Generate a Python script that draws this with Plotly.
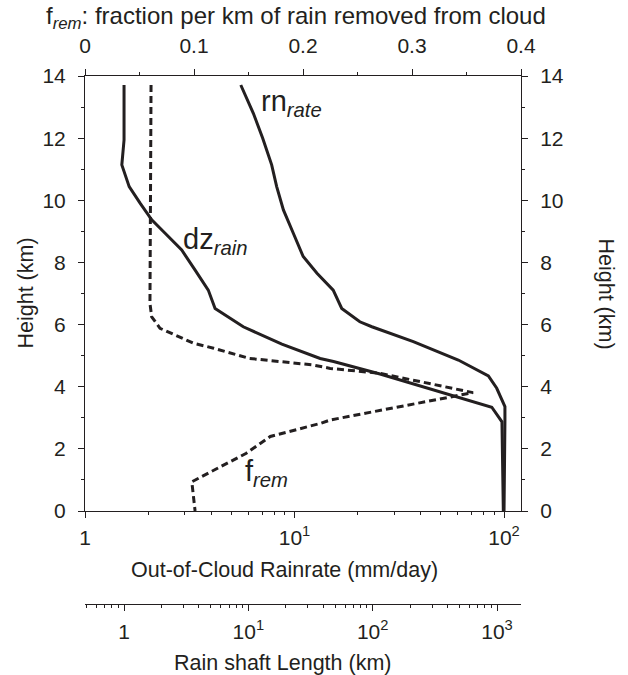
import plotly.graph_objects as go

# ---- data ----
# rain rate profile (mm/day) vs height (km)
rn_height = [13.71, 12.8, 12.0, 11.14, 10.44, 9.69, 8.94, 8.19, 7.65, 7.11, 6.52, 6.09, 5.93, 5.45, 4.86, 4.35, 3.95, 3.36, 2.9, 0.0]
rn_rate = [5.54, 6.36, 7.05, 7.78, 8.22, 8.85, 9.87, 11.0, 12.8, 15.3, 16.8, 20.5, 23.4, 36.9, 60.5, 84.2, 92.3, 101.0, 101.0, 100.0]

# rain shaft length (km) vs height (km)
dz_height = [13.71, 11.94, 11.14, 10.44, 9.90, 9.37, 8.94, 8.40, 7.76, 7.11, 6.52, 5.93, 5.37, 4.91, 4.81, 4.54, 4.41, 3.34, 2.87, 0.0]
dz_rain = [1.0, 1.0, 0.96, 1.10, 1.35, 1.67, 2.14, 2.91, 3.72, 4.76, 5.40, 9.10, 18.6, 37.8, 48.4, 89.5, 114.6, 908.0, 1096.0, 1124.0]

# fraction per km of rain removed from cloud vs height (km)
f_height = [13.71, 6.68, 6.25, 5.88, 5.40, 5.24, 4.91, 4.70, 4.59, 4.43, 3.81, 3.25, 2.93, 2.82, 2.40, 1.86, 0.94, 0.0]
f_rem = [0.0606, 0.0596, 0.0612, 0.0688, 0.0994, 0.118, 0.151, 0.209, 0.225, 0.271, 0.356, 0.271, 0.225, 0.216, 0.170, 0.148, 0.098, 0.101]

height_ticks = [0, 2, 4, 6, 8, 10, 12, 14]
height_minor = [1, 3, 5, 7, 9, 11, 13]
rate_ticks = [1, 10, 100]
rate_ticktext = ["1", "10<sup>1</sup>", "10<sup>2</sup>"]
rate_minor = [2, 3, 4, 5, 6, 7, 8, 9, 20, 30, 40, 50, 60, 70, 80, 90]
shaft_ticks = [1, 10, 100, 1000]
shaft_ticktext = ["1", "10<sup>1</sup>", "10<sup>2</sup>", "10<sup>3</sup>"]
shaft_minor = [0.5, 0.6, 0.7, 0.8, 0.9, 2, 3, 4, 5, 6, 7, 8, 9, 20, 30, 40, 50, 60, 70, 80, 90,
               200, 300, 400, 500, 600, 700, 800, 900]
frem_ticks = [0, 0.1, 0.2, 0.3, 0.4]
frem_ticktext = ["0", "0.1", "0.2", "0.3", "0.4"]
frem_minor = [0.05, 0.15, 0.25, 0.35]

FONT = "Liberation Sans, Arial, Helvetica, sans-serif"
INK = "#231f20"
FS = 21

fig = go.Figure()
fig.add_trace(go.Scatter(x=rn_rate, y=rn_height, mode="lines", xaxis="x", yaxis="y",
                         line=dict(color=INK, width=3), showlegend=False))
fig.add_trace(go.Scatter(x=dz_rain, y=dz_height, mode="lines", xaxis="x3", yaxis="y",
                         line=dict(color=INK, width=3), showlegend=False))
fig.add_trace(go.Scatter(x=f_rem, y=f_height, mode="lines", xaxis="x2", yaxis="y2",
                         line=dict(color=INK, width=3, dash="7px,4px"), showlegend=False))

common = dict(showline=True, linecolor=INK, linewidth=1, showgrid=False, zeroline=False,
              ticks="outside", ticklen=6, tickwidth=1, tickcolor=INK,
              tickfont=dict(family=FONT, size=FS, color=INK))
minor_common = dict(ticks="outside", ticklen=3, tickwidth=1, tickcolor=INK, showgrid=False)

ydomain = [0.1761, 1]
fig.update_layout(
    width=628, height=675,
    margin=dict(l=85, r=107, t=76, b=71, pad=0),
    paper_bgcolor="white", plot_bgcolor="white",
    font=dict(family=FONT, size=FS, color=INK),
    xaxis=dict(type="log", range=[0, 2.081], tickmode="array", tickvals=rate_ticks,
               ticktext=rate_ticktext, minor=dict(tickvals=rate_minor, **minor_common),
               anchor="y", ticklabelstandoff=2, **common),
    xaxis2=dict(range=[0, 0.4], overlaying="x", side="top", anchor="y2", tickmode="array",
                tickvals=frem_ticks, ticktext=frem_ticktext,
                minor=dict(tickvals=frem_minor, **minor_common), ticklabelstandoff=8, **common),
    xaxis3=dict(type="log", range=[-0.314, 3.193], overlaying="x", anchor="free", position=0,
                side="bottom", tickmode="array", tickvals=shaft_ticks, ticktext=shaft_ticktext,
                minor=dict(tickvals=shaft_minor, **minor_common), ticklabelstandoff=3, **common),
    yaxis=dict(domain=ydomain, range=[0, 14], tickmode="array", tickvals=height_ticks,
               minor=dict(tickvals=height_minor, **minor_common), anchor="x",
               ticklabelstandoff=8, **common),
    yaxis2=dict(domain=ydomain, range=[0, 14], overlaying="y", side="right", anchor="x2",
                tickmode="array", tickvals=height_ticks,
                minor=dict(tickvals=height_minor, **minor_common),
                ticklabelstandoff=8, **common),
)

def px(x):
    return (x - 85) / 436.0

def py(y):
    return (604 - y) / 528.0

ann = [
    dict(text="f<sub><i>rem</i></sub>: fraction per km of rain removed from cloud",
         x=px(296), y=py(18), size=24),
    dict(text="Out-of-Cloud Rainrate (mm/day)", x=px(284), y=py(570), size=21.5),
    dict(text="Rain shaft Length (km)", x=px(283), y=py(663), size=21.5),
    dict(text="rn<sub><i>rate</i></sub>", x=px(291), y=py(103), size=29),
    dict(text="dz<sub><i>rain</i></sub>", x=px(215), y=py(241), size=29),
    dict(text="f<sub><i>rem</i></sub>", x=px(266), y=py(473), size=29),
]
for a in ann:
    fig.add_annotation(text=a["text"], x=a["x"], y=a["y"], xref="paper", yref="paper",
                       xanchor="center", yanchor="middle", showarrow=False,
                       font=dict(family=FONT, size=a["size"], color=INK))

fig.add_annotation(text="Height (km)", x=px(25), y=py(293.5), xref="paper", yref="paper",
                   xanchor="center", yanchor="middle", showarrow=False, textangle=-90,
                   font=dict(family=FONT, size=21.5, color=INK))
fig.add_annotation(text="Height (km)", x=px(606), y=py(293.5), xref="paper", yref="paper",
                   xanchor="center", yanchor="middle", showarrow=False, textangle=90,
                   font=dict(family=FONT, size=21.5, color=INK))

fig.write_html("out.html")
